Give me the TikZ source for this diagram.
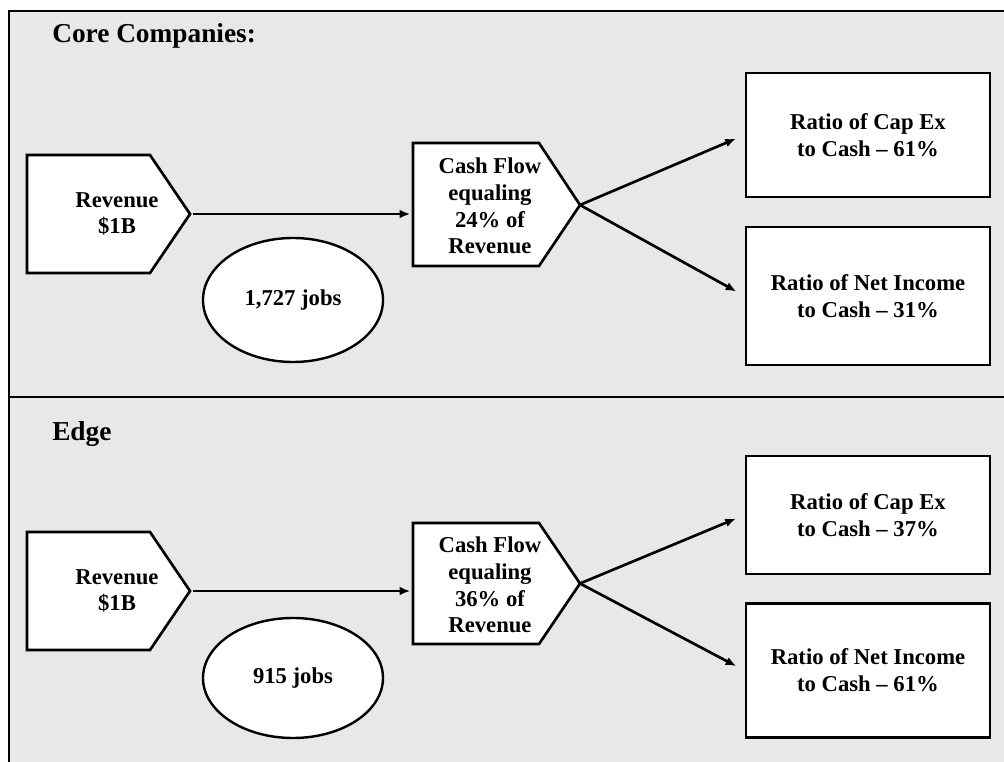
\documentclass[tikz,border=0pt]{standalone}
\usepackage{fontspec}
\setmainfont{Liberation Serif}
\usetikzlibrary{shapes.geometric,arrows.meta}
\definecolor{panelgray}{RGB}{232,232,232}
\tikzset{
  frameline/.style={line width=2.2pt},
  boxtext/.style={font=\bfseries\fontsize{17}{20}\selectfont, align=center, inner sep=0pt},
  pentline/.style={draw, fill=white, line width=2pt, line join=miter},
  ratiobox/.style={boxtext, rectangle, draw, fill=white, line width=2.2pt, minimum width=183pt},
  jobsoval/.style={boxtext, ellipse, draw, fill=white, line width=1.8pt, minimum width=135pt},
  flowarrow/.style={line width=2pt, -{Latex[length=8pt,width=6.5pt]}},
  paneltitle/.style={font=\bfseries\fontsize{20.5}{24}\selectfont, anchor=base west, inner sep=0pt},
}
\begin{document}
\begin{tikzpicture}[x=0.75pt,y=0.75pt,yscale=-1,xscale=1]
\useasboundingbox (0,0) rectangle (1004,762);

%Shape: Rectangle (panels)
\fill[panelgray] (9,11) rectangle (1004,762);
%Straight Lines
\draw[frameline] (1004,11) -- (9,11) -- (9,762);
\draw[frameline] (9,397) -- (1004,397);

% Text Node
\node[paneltitle] (core) at (52,43) {Core Companies:};
\node[paneltitle] (edge) at (52,441) {Edge};

%Shape: Pentagon
\draw[pentline] (27,155) -- (150,155) -- (190,214) coordinate (rev1tip) -- (150,273) -- (27,273) -- cycle;
\node[boxtext] (rev1) at (117,214) {Revenue\\\$1B};
%Shape: Pentagon
\draw[pentline] (413,143) coordinate (cash1nw) -- (539,143) -- (580,205) coordinate (cash1tip) -- (539,266) -- (413,266) -- cycle;
\node[boxtext] (cash1) at (490,206) {Cash Flow\\equaling\\24\% of\\Revenue};
%Shape: Pentagon
\draw[pentline] (27,532) -- (150,532) -- (190,591) coordinate (rev2tip) -- (150,650) -- (27,650) -- cycle;
\node[boxtext] (rev2) at (117,591) {Revenue\\\$1B};
%Shape: Pentagon
\draw[pentline] (413,523) coordinate (cash2nw) -- (539,523) -- (580,583.5) coordinate (cash2tip) -- (539,644) -- (413,644) -- cycle;
\node[boxtext] (cash2) at (490,585) {Cash Flow\\equaling\\36\% of\\Revenue};

%Shape: Ellipse
\node[jobsoval, minimum height=93pt] (jobs1) at (293,300) {1,727 jobs};
\node[jobsoval, minimum height=90pt] (jobs2) at (293,678) {915 jobs};

%Shape: Rectangle
\node[ratiobox, minimum height=93pt] (capex1) at (868,135) {Ratio of Cap Ex\\to Cash -- 61\%};
\node[ratiobox, minimum height=103.5pt] (netinc1) at (868,296) {Ratio of Net Income\\to Cash -- 31\%};
\node[ratiobox, minimum height=88.5pt] (capex2) at (868,515) {Ratio of Cap Ex\\to Cash -- 37\%};
\node[ratiobox, minimum height=101pt] (netinc2) at (868,670.5) {Ratio of Net Income\\to Cash -- 61\%};

%Straight Lines (arrows)
\draw[flowarrow, shorten <=2pt, shorten >=2pt] (rev1tip) -- (rev1tip -| cash1nw);
\draw[flowarrow, shorten >=7pt] (cash1tip) -- (capex1.west);
\draw[flowarrow, shorten >=7pt] (cash1tip) -- (netinc1.west);
\draw[flowarrow, shorten <=2pt, shorten >=2pt] (rev2tip) -- (rev2tip -| cash2nw);
\draw[flowarrow, shorten >=7pt] (cash2tip) -- (capex2.west);
\draw[flowarrow, shorten >=7pt] (cash2tip) -- (netinc2.west);

\end{tikzpicture}
\end{document}
